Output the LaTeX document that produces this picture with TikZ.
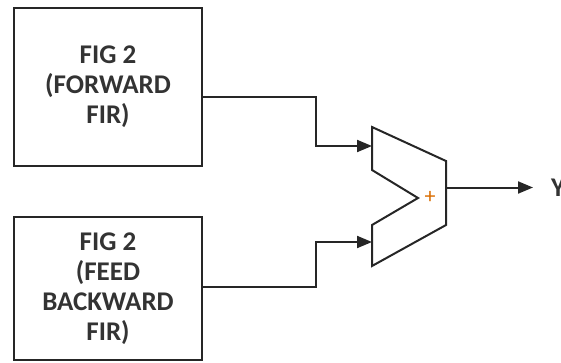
\documentclass[tikz,border=0pt]{standalone}
\usepackage{fontspec}
\setmainfont{Carlito}
\usetikzlibrary{arrows.meta}
\begin{document}
\begin{tikzpicture}[x=1pt,y=-1pt,
  blockbox/.style={draw=black!85, line width=2.4pt, minimum width=188pt, align=center,
    font=\fontsize{27}{30}\selectfont\bfseries, text=black!80, inner sep=0pt},
  wire/.style={line width=2pt, draw=black!85},
  arr/.style={wire, -{Triangle[length=15pt,width=12pt]}},
  addershape/.style={draw=black!85, line width=2pt, line join=miter}]
\useasboundingbox (0,0) rectangle (561,362);
% blocks
\node[blockbox, minimum height=158pt] (fwd) at (108,87) {FIG 2\\(FORWARD\\FIR)};
\node[blockbox, minimum height=143pt] (fbk) at (108,288.5) {FIG 2\\(FEED\\BACKWARD\\FIR)};
% adder vertices
\coordinate (a1) at (372,127);
\coordinate (a2) at (446,161);
\coordinate (a3) at (446,225);
\coordinate (a4) at (372,266);
\coordinate (a5) at (372,225);
\coordinate (a6) at (418,198);
\coordinate (a7) at (372,170);
\draw[addershape] (a1) -- (a2) -- (a3) -- (a4) -- (a5) -- (a6) -- (a7) -- cycle;
\node[text=orange!85!black, font=\fontsize{22}{22}\selectfont, inner sep=0pt] (plus) at (430,197) {+};
% wiring
\coordinate (t1) at (fwd.east |- 0,97);
\coordinate (k1) at (316,146);
\coordinate (in1) at (372,146);
\coordinate (b1) at (fbk.east |- 0,287);
\coordinate (k2) at (316,242);
\coordinate (in2) at (372,242);
\coordinate (out) at (446,187.5);
\coordinate (tip) at (533,187.5);
\draw[arr] (t1) -| (k1) -- (in1);
\draw[arr] (b1) -| (k2) -- (in2);
\draw[arr] (out) -- (tip);
\node[anchor=west, font=\fontsize{27}{30}\selectfont\bfseries, text=black!80, inner sep=0pt] (y) at (551,187.5) {Y};
\end{tikzpicture}
\end{document}
